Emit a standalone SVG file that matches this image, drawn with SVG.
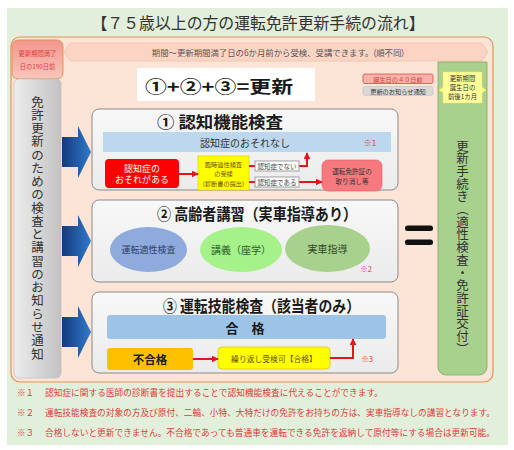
<svg xmlns="http://www.w3.org/2000/svg" width="514" height="450" viewBox="0 0 514 450">
<defs>
<linearGradient id="gArrow" x1="0" y1="0" x2="1" y2="0"><stop offset="0" stop-color="#15397c"/><stop offset="1" stop-color="#2f7acb"/></linearGradient>
<linearGradient id="gGray" x1="0" y1="0" x2="1" y2="0"><stop offset="0" stop-color="#ededed"/><stop offset="1" stop-color="#c2c2c2"/></linearGradient>
<linearGradient id="gRed" x1="0" y1="0" x2="0" y2="1"><stop offset="0" stop-color="#f4968c"/><stop offset="1" stop-color="#fbc6bc"/></linearGradient>
<linearGradient id="gBox" x1="0" y1="0" x2="0" y2="1"><stop offset="0" stop-color="#f8f8f8"/><stop offset="1" stop-color="#ebebeb"/></linearGradient>
<marker id="ah" viewBox="0 0 10 10" refX="9" refY="5" markerWidth="7" markerHeight="7" markerUnits="userSpaceOnUse" orient="auto"><path d="M0,0L10,5L0,10z" fill="#e8141c"/></marker>
</defs>
<style>
text{font-family:"Noto Sans CJK JP","Noto Sans",sans-serif;dominant-baseline:central;}
.c{text-anchor:middle;}
.box{fill:url(#gBox);stroke:#8a8a8a;stroke-width:1;}
.title{font-size:16px;font-weight:bold;fill:#1a1a1a;}
.red{stroke:#e8141c;stroke-width:2;fill:none;}
.lbl{fill:#fff;stroke:#8a8a8a;stroke-width:0.8;}
.lblt{font-size:6.5px;fill:#444;}
.note{font-size:8.6px;fill:#e23a3a;}
.v{font-size:12.5px;fill:#333;text-anchor:middle;}
</style>

<rect x="7" y="8" width="501" height="437" fill="#e2efda"/>
<text x="258" y="22" class="c" font-size="16" fill="#333" textLength="333" lengthAdjust="spacingAndGlyphs">【７５歳以上の方の運転免許更新手続の流れ】</text>

<rect x="11" y="37" width="482" height="345" rx="9" fill="#fce4d6" stroke="#e0955c" stroke-width="1.2"/>

<g id="banner">
<path d="M70,43H482L488,52L482,61H70L64,52Z" fill="#fbd4c4" stroke="#efb9a0" stroke-width="0.6"/>
<text x="278" y="52" class="c" font-size="8.4" fill="#555">期間～更新期間満了日の6か月前から受検、受講できます。(順不同)</text>
</g>

<g id="deadline190">
<rect x="12" y="40" width="51" height="39" rx="6" fill="url(#gRed)" stroke="#e0955c" stroke-width="1"/>
<text x="37.5" y="53" class="c" font-size="6.3" fill="#e03c3c">更新期間満了</text>
<text x="37.5" y="66" class="c" font-size="6.3" fill="#e03c3c">日の190日前</text>
</g>

<g id="notice">
<rect x="14" y="79" width="47" height="299" rx="5" fill="url(#gGray)" stroke="#b8b8b8" stroke-width="0.6"/>
<text x="37.5" y="101" class="v">免</text>
<text x="37.5" y="114.3" class="v">許</text>
<text x="37.5" y="127.5" class="v">更</text>
<text x="37.5" y="140.8" class="v">新</text>
<text x="37.5" y="154" class="v">の</text>
<text x="37.5" y="167.3" class="v">た</text>
<text x="37.5" y="180.6" class="v">め</text>
<text x="37.5" y="193.8" class="v">の</text>
<text x="37.5" y="207.1" class="v">検</text>
<text x="37.5" y="220.3" class="v">査</text>
<text x="37.5" y="233.6" class="v">と</text>
<text x="37.5" y="246.9" class="v">講</text>
<text x="37.5" y="260.1" class="v">習</text>
<text x="37.5" y="273.4" class="v">の</text>
<text x="37.5" y="286.6" class="v">お</text>
<text x="37.5" y="299.9" class="v">知</text>
<text x="37.5" y="313.2" class="v">ら</text>
<text x="37.5" y="326.4" class="v">せ</text>
<text x="37.5" y="339.7" class="v">通</text>
<text x="37.5" y="353" class="v">知</text>
</g>

<g id="formula">
<rect x="137" y="68" width="178" height="33" fill="#ffffff"/>
<text x="219" y="85" class="c" font-size="17" font-weight="bold" fill="#1a1a1a" textLength="148" lengthAdjust="spacingAndGlyphs">①+②+③=更新</text>
</g>

<g id="birthday40">
<rect x="363" y="74" width="70" height="9.5" rx="2" fill="#f8b4aa" stroke="#e04a3e" stroke-width="0.8"/>
<text x="398" y="79" class="c" font-size="6.2" fill="#e03c3c">誕生日の４０日前</text>
</g>
<g id="renewalNotice">
<rect x="363" y="86.5" width="70" height="9" rx="2" fill="#d9d9d9" stroke="#bfbfbf" stroke-width="0.6"/>
<text x="398" y="91.2" class="c" font-size="6.2" fill="#333">更新のお知らせ通知</text>
</g>

<g id="arrows">
<path d="M62,137H78V126L91,152L78,178V167H62Z" fill="url(#gArrow)"/>
<path d="M62,226H78V215L91,241L78,267V256H62Z" fill="url(#gArrow)"/>
<path d="M62,317H78V306L91,332L78,358V347H62Z" fill="url(#gArrow)"/>
</g>

<g id="box1">
<rect x="92" y="109" width="306" height="81" rx="7" class="box"/>
<text x="157" y="121" class="title" textLength="126" lengthAdjust="spacingAndGlyphs">① 認知機能検査</text>
<rect x="103" y="132" width="288" height="20" fill="#bdd7ee"/>
<text x="245" y="142" class="c" font-size="10" fill="#333">認知症のおそれなし</text>
<text x="370" y="142" class="c" font-size="8" fill="#e23a3a">※1</text>
</g>
<g id="risk">
<rect x="105" y="159" width="74" height="29" rx="4" fill="#ff0000"/>
<text x="142" y="168" class="c" font-size="9" fill="#fff">認知症の</text>
<text x="142" y="179.5" class="c" font-size="9" fill="#fff">おそれがある</text>
</g>
<g id="tempTest">
<rect x="198" y="156" width="51" height="34" fill="#ffff00" stroke="#e2c800" stroke-width="0.6"/>
<text x="223.5" y="164.5" class="c" font-size="6.2" fill="#6b4a00">臨時適性検査</text>
<text x="223.5" y="173.5" class="c" font-size="6.2" fill="#6b4a00">の受検</text>
<text x="223.5" y="183" class="c" font-size="6.2" fill="#6b4a00">(診断書の提出)</text>
</g>
<g id="revoke">
<rect x="322" y="160" width="60" height="31" rx="6" fill="#f7797d" stroke="#e85a64" stroke-width="0.6"/>
<text x="352" y="171" class="c" font-size="6.6" fill="#333">運転免許証の</text>
<text x="352" y="181" class="c" font-size="6.6" fill="#333">取り消し等</text>
</g>

<g id="box2">
<rect x="92" y="200" width="306" height="82" rx="7" class="box"/>
<text x="157" y="213" class="title" textLength="200" lengthAdjust="spacingAndGlyphs">② 高齢者講習（実車指導あり）</text>
</g>
<g id="aptitude">
<ellipse cx="148.5" cy="249.5" rx="38.5" ry="22.5" fill="#8faadc"/>
<text x="148.5" y="249.5" class="c" font-size="9" fill="#2f3f6e">運転適性検査</text>
</g>
<g id="lecture">
<ellipse cx="241" cy="249.5" rx="41" ry="22.5" fill="#a6f28a"/>
<text x="241" y="249.5" class="c" font-size="10" fill="#2f5a1e">講義（座学）</text>
</g>
<g id="driving">
<ellipse cx="327.5" cy="248.5" rx="42.5" ry="23.5" fill="#a9d18e"/>
<text x="327.5" y="248" class="c" font-size="10" fill="#2f4a1e">実車指導</text>
<text x="366" y="268" class="c" font-size="7.5" fill="#e23a3a">※2</text>
</g>

<g id="box3">
<rect x="92" y="292" width="306" height="81" rx="7" class="box"/>
<text x="163" y="305" class="title" textLength="197" lengthAdjust="spacingAndGlyphs">③ 運転技能検査（該当者のみ）</text>
<rect x="107" y="315" width="279" height="24" rx="3" fill="#9dc3e6"/>
<text x="245" y="327" class="c" font-size="13" font-weight="bold" fill="#1a1a1a">合　格</text>
</g>
<g id="fail">
<rect x="107" y="348" width="86" height="22" rx="3" fill="#ffc000"/>
<text x="150" y="359" class="c" font-size="11.5" font-weight="bold" fill="#1a1a1a">不合格</text>
</g>
<g id="retry">
<rect x="218" y="347" width="112" height="22" rx="4" fill="#ffff00" stroke="#e2c800" stroke-width="0.8"/>
<text x="274" y="358" class="c" font-size="7.8" fill="#6b4a00">繰り返し受検可【合格】</text>
<text x="367" y="358" class="c" font-size="7.5" fill="#e23a3a">※3</text>
</g>

<g id="equals">
<rect x="405" y="225.5" width="28" height="5.5" rx="2.5" fill="#111"/>
<rect x="405" y="239.5" width="28" height="5.5" rx="2.5" fill="#111"/>
</g>

<g id="renewal">
<path d="M438,62H487V367A8,8 0 0 1 479,375H446A8,8 0 0 1 438,367Z" fill="#a9d18e" stroke="#7ea862" stroke-width="0.8"/>
<rect x="443" y="72" width="39" height="31" fill="#ffff9a" stroke="#f0e070" stroke-width="0.5"/>
<path d="M443,87L439,90L443,93Z" fill="#ffff66"/>
<path d="M482,87L486,90L482,93Z" fill="#ffff66"/>
<text x="462.5" y="78.5" class="c" font-size="6.4" fill="#333">更新期間</text>
<text x="462.5" y="87.5" class="c" font-size="6.4" fill="#333">誕生日の</text>
<text x="462.5" y="96.5" class="c" font-size="6.4" fill="#333">前後1カ月</text>
<text x="462.5" y="145" class="v">更</text>
<text x="462.5" y="157.7" class="v">新</text>
<text x="462.5" y="170.4" class="v">手</text>
<text x="462.5" y="183.1" class="v">続</text>
<text x="462.5" y="195.8" class="v">き</text>
<text x="462.5" y="208.5" class="v">︵</text>
<text x="462.5" y="221.2" class="v">適</text>
<text x="462.5" y="233.9" class="v">性</text>
<text x="462.5" y="246.6" class="v">検</text>
<text x="462.5" y="259.3" class="v">査</text>
<text x="462.5" y="272" class="v">・</text>
<text x="462.5" y="284.7" class="v">免</text>
<text x="462.5" y="297.4" class="v">許</text>
<text x="462.5" y="310.1" class="v">証</text>
<text x="462.5" y="322.8" class="v">交</text>
<text x="462.5" y="335.5" class="v">付</text>
<text x="462.5" y="348.2" class="v">︶</text>
</g>

<g id="connectors">
<line x1="179" y1="174" x2="198" y2="174" class="red" marker-end="url(#ah)"/>
<polyline points="249,166 255,166" class="red"/>
<polyline points="299,166 307,166 307,153" class="red" marker-end="url(#ah)"/>
<polyline points="249,182 255,182" class="red"/>
<line x1="299" y1="182" x2="322" y2="182" class="red" marker-end="url(#ah)"/>
<rect x="255" y="161" width="44" height="10" class="lbl"/>
<text x="277" y="166" class="c lblt">認知症でない</text>
<rect x="255" y="177" width="44" height="10" class="lbl"/>
<text x="277" y="182" class="c lblt">認知症である</text>
<line x1="193" y1="359" x2="218" y2="359" class="red" marker-end="url(#ah)"/>
<polyline points="330,358 353,358 353,339" class="red" marker-end="url(#ah)"/>
</g>

<g id="notes">
<text x="17" y="392" class="note">※１</text>
<text x="45" y="392" class="note" textLength="338" lengthAdjust="spacingAndGlyphs">認知症に関する医師の診断書を提出することで認知機能検査に代えることができます。</text>
<text x="17" y="412" class="note">※２</text>
<text x="45" y="412" class="note" textLength="450" lengthAdjust="spacingAndGlyphs">運転技能検査の対象の方及び原付、二輪、小特、大特だけの免許をお持ちの方は、実車指導なしの講習となります。</text>
<text x="17" y="432" class="note">※３</text>
<text x="45" y="432" class="note" textLength="450" lengthAdjust="spacingAndGlyphs">合格しないと更新できません。不合格であっても普通車を運転できる免許を返納して原付等にする場合は更新可能。</text>
</g>
</svg>
